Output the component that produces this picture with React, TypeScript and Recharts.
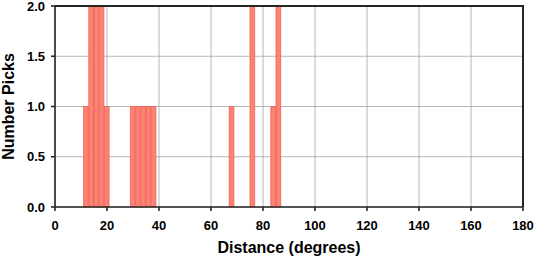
import { Bar, CartesianGrid, ComposedChart, Label, XAxis, YAxis } from "recharts";

// histogram of pick distances, 2-degree bins
const binCenters = [12, 14, 16, 18, 20, 30, 32, 34, 36, 38, 68, 76, 84, 86];
const picks = [1, 2, 2, 2, 1, 1, 1, 1, 1, 1, 1, 2, 1, 2];
const xTicks = [0, 20, 40, 60, 80, 100, 120, 140, 160, 180];
const yTicks = [0, 0.5, 1, 1.5, 2];
const binWidth = 2;
const xDomain = [0, 180];
const yDomain = [0, 2];

const W = 534;
const H = 258;
const margin = { top: 6, right: 11, bottom: 0, left: 0 };
const leftAxisW = 55;
const bottomAxisH = 51;
const plotW = W - leftAxisW - margin.right;
const plotH = H - margin.top - bottomAxisH;

const rows = binCenters.map((d, i) => ({ d, n: picks[i] }));

const frame = "#262626";
const font = "'Liberation Sans', Arial, Helvetica, sans-serif";
const tickStyle = { fontSize: 13, fontWeight: 700, fill: "#000", fontFamily: font };

// map values to pixels: use the axis scale if one is handed over, else map linearly on the plot offset
function xPos(values: number[]) {
  return ({ xAxis, offset }: any) => {
    const s = xAxis?.scale;
    return values.map((v) =>
      typeof s === "function"
        ? s(v)
        : offset.left + ((v - xDomain[0]) / (xDomain[1] - xDomain[0])) * offset.width
    );
  };
}
function yPos(values: number[]) {
  return ({ yAxis, offset }: any) => {
    const s = yAxis?.scale;
    return values.map((v) =>
      typeof s === "function"
        ? s(v)
        : offset.top + offset.height - ((v - yDomain[0]) / (yDomain[1] - yDomain[0])) * offset.height
    );
  };
}

export default function App() {
  return (
    <div style={{ position: "absolute", left: 0, top: 0, width: W, height: H }}>
      <ComposedChart width={W} height={H} data={rows} margin={margin}>
        <CartesianGrid
          stroke="#a3a3a3"
          strokeWidth={0.8}
          verticalCoordinatesGenerator={xPos(xTicks)}
          horizontalCoordinatesGenerator={yPos(yTicks)}
        />
        <XAxis
          dataKey="d"
          type="number"
          domain={xDomain}
          ticks={xTicks}
          height={bottomAxisH}
          stroke={frame}
          strokeWidth={1.6}
          tickSize={4}
          tickMargin={10}
          tick={tickStyle}
          interval={0}
        >
          <Label
            value="Distance (degrees)"
            position="insideBottom"
            offset={5}
            style={{ fontSize: 16, fontWeight: 700, fill: "#000", fontFamily: font }}
          />
        </XAxis>
        <YAxis
          type="number"
          domain={yDomain}
          ticks={yTicks}
          width={leftAxisW}
          stroke={frame}
          strokeWidth={1.6}
          tickSize={4}
          tickMargin={6}
          tick={tickStyle}
          tickFormatter={(v: number) => v.toFixed(1)}
          interval={0}
        >
          <Label
            value="Number Picks"
            angle={-90}
            position="insideLeft"
            offset={8}
            style={{ fontSize: 16, fontWeight: 700, fill: "#000", fontFamily: font, textAnchor: "middle" }}
          />
        </YAxis>
        <Bar
          dataKey="n"
          barSize={(binWidth * plotW) / 180}
          fill="#fb8274"
          stroke="#f0604f"
          strokeWidth={0.8}
          isAnimationActive={false}
        />
      </ComposedChart>
      {/* top and right sides of the plot frame */}
      <div
        style={{
          position: "absolute",
          left: leftAxisW,
          top: margin.top - 1,
          width: plotW + 1,
          height: plotH + 1,
          boxSizing: "border-box",
          borderTop: `2px solid ${frame}`,
          borderRight: `2px solid ${frame}`,
          pointerEvents: "none",
        }}
      />
    </div>
  );
}
